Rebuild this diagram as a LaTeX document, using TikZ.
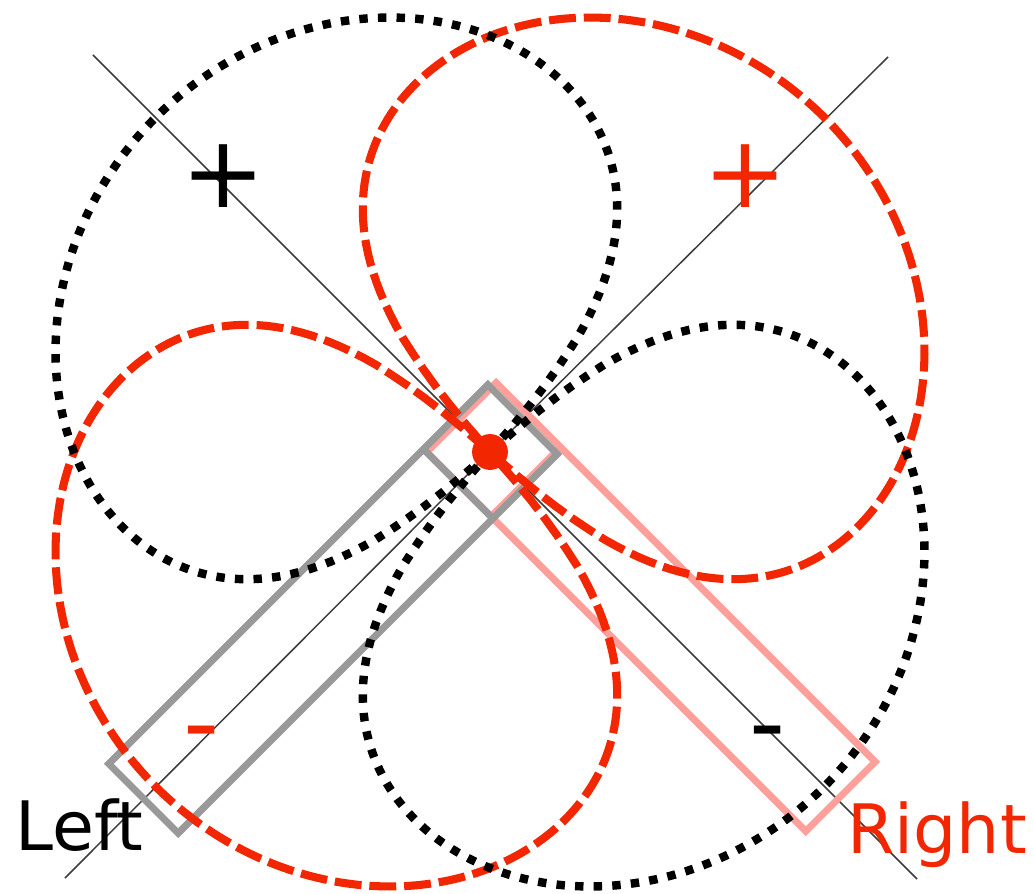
\documentclass[tikz,border=0pt]{standalone}
\usepackage{fontspec}
\setmainfont{DejaVu Sans}
\definecolor{lred}{RGB}{242,38,0}
\definecolor{mpink}{RGB}{255,160,155}
\definecolor{mgray}{RGB}{153,153,153}
\definecolor{axisc}{RGB}{60,60,60}
\begin{document}
\begin{tikzpicture}[x=0.02cm,y=0.02cm,
  declare function={lobe(\t)=max(0,473*(1+0.8*log10(max(cos(\t),0.0001))));},
  redlobe/.style={draw=lred, line width=4.6pt, dash pattern=on 15.3pt off 4.5pt},
  blacklobe/.style={draw=black, line width=4.8pt, dash pattern=on 4.8pt off 5.8pt},
  micbody/.style={line width=4pt},
  axisline/.style={draw=axisc, line width=0.85pt},
  sign/.style={font=\fontsize{57}{60}\selectfont, inner sep=0pt, anchor=base},
  lbl/.style={font=\fontsize{38.8}{45}\selectfont, inner sep=0pt, anchor=base west},
  reddot/.style={circle, fill=lred, inner sep=0pt, minimum size=20.4pt}]
\useasboundingbox (-490,-441) rectangle (543,452);
\coordinate (C) at (0,0);
\coordinate (L1a) at (-397,397);
\coordinate (L1b) at (427,-427);
\coordinate (L2a) at (398,395);
\coordinate (L2b) at (-425,-426);
\draw[axisline] (L1a) -- (C) -- (L1b);
\draw[axisline] (L2a) -- (C) -- (L2b);
% microphones
\begin{scope}[shift={(4,2)}, rotate=-45]
  \draw[mpink, micbody] (-46,-49) rectangle (490,49);
  \draw[mpink, micbody] (45,-49) -- (45,49);
\end{scope}
\begin{scope}[rotate=225]
  \draw[mgray, micbody] (-46,-49) rectangle (490,49);
  \draw[mgray, micbody] (45,-49) -- (45,49);
\end{scope}
% red figure-eight
\draw[redlobe] plot[domain=-86.77:86.77, samples=240] ({lobe(\x)*cos(\x+45)},{lobe(\x)*sin(\x+45)});
\draw[redlobe] plot[domain=-86.77:86.77, samples=240] ({lobe(\x)*cos(\x+225)},{lobe(\x)*sin(\x+225)});
% black figure-eight
\draw[blacklobe] plot[domain=-86.77:86.77, samples=240] ({lobe(\x)*cos(\x+135)},{lobe(\x)*sin(\x+135)});
\draw[blacklobe] plot[domain=-86.77:86.77, samples=240] ({lobe(\x)*cos(\x+315)},{lobe(\x)*sin(\x+315)});
\node[reddot] (dot) at (C) {};
% labels
\node[sign] (plusL) at (-267,245) {+};
\node[sign, text=lred] (plusR) at (255.5,245) {+};
\node[sign, text=lred] (minL) at (-288,-305) {-};
\node[sign] (minR) at (278,-305) {-};
\node[lbl] (left) at (-475,-398) {Left};
\node[lbl, text=lred] (right) at (357,-401) {Right};
\end{tikzpicture}
\end{document}
